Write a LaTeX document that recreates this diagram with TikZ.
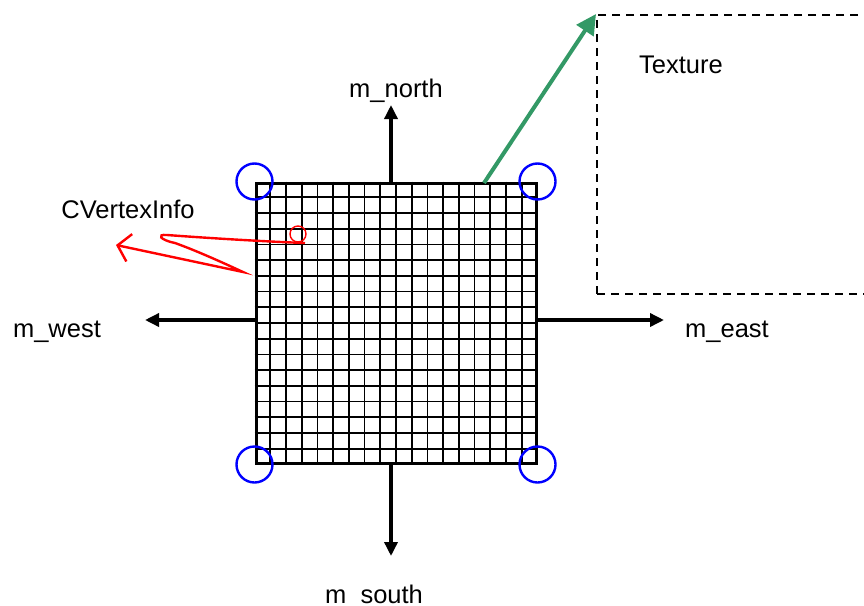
\documentclass[tikz,border=0pt]{standalone}
\usepackage{fontspec}
\setmainfont{Liberation Sans}
\usepackage{tikz}
\usetikzlibrary{positioning,arrows.meta,calc}

\definecolor{seagreen}{RGB}{51,153,102}

\begin{document}
\begin{tikzpicture}[
    x=1pt, y=-1pt,
    lbl/.style={anchor=base, inner sep=0pt, font=\fontsize{25.5}{30}\selectfont},
    mesh/.style={draw, line width=3pt, minimum size=280pt, inner sep=0pt},
    gridline/.style={line width=1.7pt},
    corner/.style={draw=blue, line width=2.4pt, circle, minimum size=36pt, inner sep=0pt},
    axis/.style={-{Triangle[length=14pt,width=13pt]}, line width=3.4pt},
    texbox/.style={draw, dashed, dash pattern=on 8pt off 6pt, line width=2pt,
                   minimum width=320pt, minimum height=279pt, inner sep=0pt},
    uvarr/.style={-{Triangle[length=20pt,width=20pt]}, line width=4pt, draw=seagreen, fill=seagreen},
    vtxptr/.style={draw=red, line width=2.4pt, -{Straight Barb[length=12pt,width=28pt]}},
  ]
  \useasboundingbox (0,0) rectangle (864,605);

  % the patch and its 18x18 vertex grid
  \node[mesh] (patch) at (396,323) {};
  \foreach \i in {1,...,17} {
    \draw[gridline] ($(patch.north west)!\i/18!(patch.north east)$)
                 -- ($(patch.south west)!\i/18!(patch.south east)$);
    \draw[gridline] ($(patch.north west)!\i/18!(patch.south west)$)
                 -- ($(patch.north east)!\i/18!(patch.south east)$);
  }

  % corner vertices
  \foreach \c in {north west, north east, south west, south east}
    \node[corner] at (patch.\c) {};

  % neighbour links
  \node[lbl] (north) at (396,97)    {m\_north};
  \node[lbl] (south) at (374,603.5) {m\_south};
  \node[lbl] (west)  at (57,337)    {m\_west};
  \node[lbl] (east)  at (727,337)   {m\_east};
  \coordinate (northtip) at (391,105);
  \coordinate (southtip) at (391,556);
  \coordinate (westtip)  at (145,320);
  \coordinate (easttip)  at (664,320);
  \draw[axis] (patch.north -| northtip) -- (northtip);
  \draw[axis] (patch.south -| southtip) -- (southtip);
  \draw[axis] (patch.west |- westtip)   -- (westtip);
  \draw[axis] (patch.east |- easttip)   -- (easttip);

  % texture lookup
  \node[texbox, anchor=north west] (tex) at (596,14) {};
  \node[lbl] (texname) at (681,73) {Texture};
  \coordinate (uvstart) at (484,183);
  \draw[uvarr] (uvstart) -- (tex.north west);

  % per-vertex info
  \node[draw=red, line width=1.4pt, circle, minimum size=16pt, inner sep=0pt] (vtx) at (298,234) {};
  \node[lbl] (vinfo) at (128,218) {CVertexInfo};
  \coordinate (vstart) at (305,243);
  \coordinate (vturn)  at (243,272);
  \coordinate (vtip)   at (116,245);
  \draw[vtxptr] (vstart) .. controls (250,241) and (180,236) .. (167,235)
                          .. controls (156,234) and (160,240) .. (175,243)
                          .. controls (200,252) and (230,266) .. (vturn)
                          -- (vtip);
\end{tikzpicture}
\end{document}
